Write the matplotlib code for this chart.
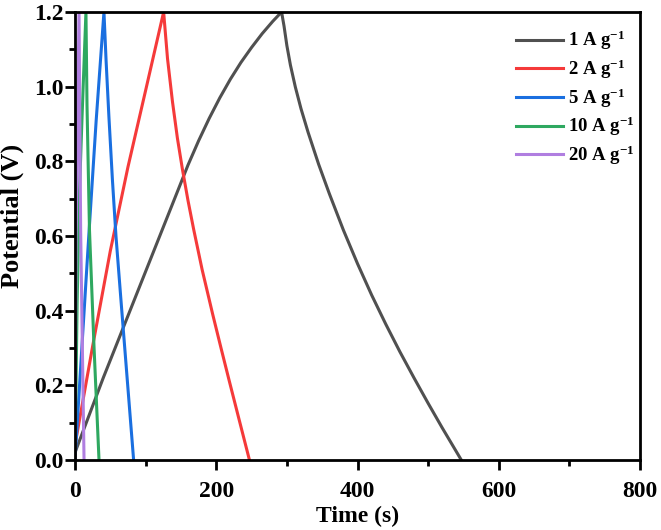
import matplotlib
matplotlib.use("Agg")
import matplotlib.pyplot as plt
from matplotlib.ticker import MultipleLocator, FormatStrFormatter

plt.rcParams['font.family'] = ['Liberation Serif', 'DejaVu Serif']
plt.rcParams['font.weight'] = 'bold'
plt.rcParams['mathtext.fontset'] = 'custom'
plt.rcParams['mathtext.rm'] = 'Liberation Serif:bold'
plt.rcParams['mathtext.it'] = 'Liberation Serif:bold'
plt.rcParams['mathtext.bf'] = 'Liberation Serif:bold'

# ---- data ----
t_1A = [0, 20, 40, 60, 80, 100, 120, 140, 160, 175, 190, 205, 220, 235, 250, 265, 280, 292.5,
        296, 300, 305, 312, 320, 330, 345, 360, 380, 400, 420, 440, 460, 480, 500, 520, 547]
v_1A = [0.02, 0.12, 0.22, 0.315, 0.41, 0.505, 0.60, 0.695, 0.79, 0.855, 0.915, 0.97, 1.02,
        1.065, 1.105, 1.142, 1.175, 1.2,
        1.162, 1.11, 1.058, 0.999, 0.941, 0.878, 0.792, 0.714, 0.616, 0.526, 0.442, 0.364,
        0.29, 0.22, 0.152, 0.086, 0.0]

t_2A = [0, 25, 50, 75, 100, 125.5, 131, 138, 145, 152, 160, 168, 180, 195, 207, 218, 232, 247]
v_2A = [0.04, 0.305, 0.56, 0.785, 0.99, 1.2, 1.075, 0.96, 0.862, 0.78, 0.695, 0.618, 0.51,
        0.39, 0.298, 0.215, 0.111, 0.0]

t_5A = [0, 10, 20, 30, 41, 44, 48, 53, 58, 65, 74, 83]
v_5A = [0.0, 0.31, 0.615, 0.91, 1.2, 1.07, 0.92, 0.75, 0.60, 0.43, 0.215, 0.0]

t_10A = [0, 3, 6, 10, 15.5, 17, 20.5, 27, 34]
v_10A = [0.0, 0.42, 0.70, 0.92, 1.2, 0.95, 0.616, 0.30, 0.0]

t_20A = [0, 1.5, 5.7, 8, 12.8]
v_20A = [0.0, 0.6, 1.2, 0.616, 0.0]

labels = [r'1 A g$^{-1}$', r'2 A g$^{-1}$', r'5 A g$^{-1}$',
          r'10 A g$^{-1}$', r'20 A g$^{-1}$']
colors = ['#505050', '#f53a3a', '#1a6fe0', '#2ea860', '#b07ee0']

fig = plt.figure(figsize=(6.61, 5.30), dpi=100)
ax = fig.add_axes([75/661, 70/530, (640-75)/661, (460-12)/530])

series = [(t_1A, v_1A), (t_2A, v_2A), (t_5A, v_5A), (t_10A, v_10A), (t_20A, v_20A)]
for (t, v), lab, c in zip(series, labels, colors):
    ax.plot(t, v, color=c, lw=2.2, label=lab)

ax.set_xlim(0, 800)
ax.set_ylim(0, 1.2)
ax.xaxis.set_major_locator(MultipleLocator(200))
ax.xaxis.set_minor_locator(MultipleLocator(100))
ax.yaxis.set_major_locator(MultipleLocator(0.2))
ax.yaxis.set_minor_locator(MultipleLocator(0.1))
ax.yaxis.set_major_formatter(FormatStrFormatter('%.1f'))

for s in ax.spines.values():
    s.set_linewidth(2.0)
ax.tick_params(which='major', direction='out', length=7, width=2, labelsize=17)
ax.tick_params(which='minor', direction='out', length=4, width=2)
ax.tick_params(axis='x', which='major', pad=8)
ax.tick_params(axis='y', which='major', pad=1)
ax.tick_params(top=False, right=False)

ax.set_xlabel('Time (s)', fontsize=17, fontweight='bold', labelpad=3)
ax.set_ylabel('Potential (V)', fontsize=19, fontweight='bold')
ax.yaxis.set_label_coords(-0.09, 0.545)

leg = ax.legend(loc='upper left', frameon=False, fontsize=13.5, handlelength=2.5,
                handletextpad=0.25, labelspacing=0.28, borderpad=0, borderaxespad=0,
                bbox_to_anchor=((516-75)/565, (460-29)/448))

fig.savefig('out.png', dpi=100)
